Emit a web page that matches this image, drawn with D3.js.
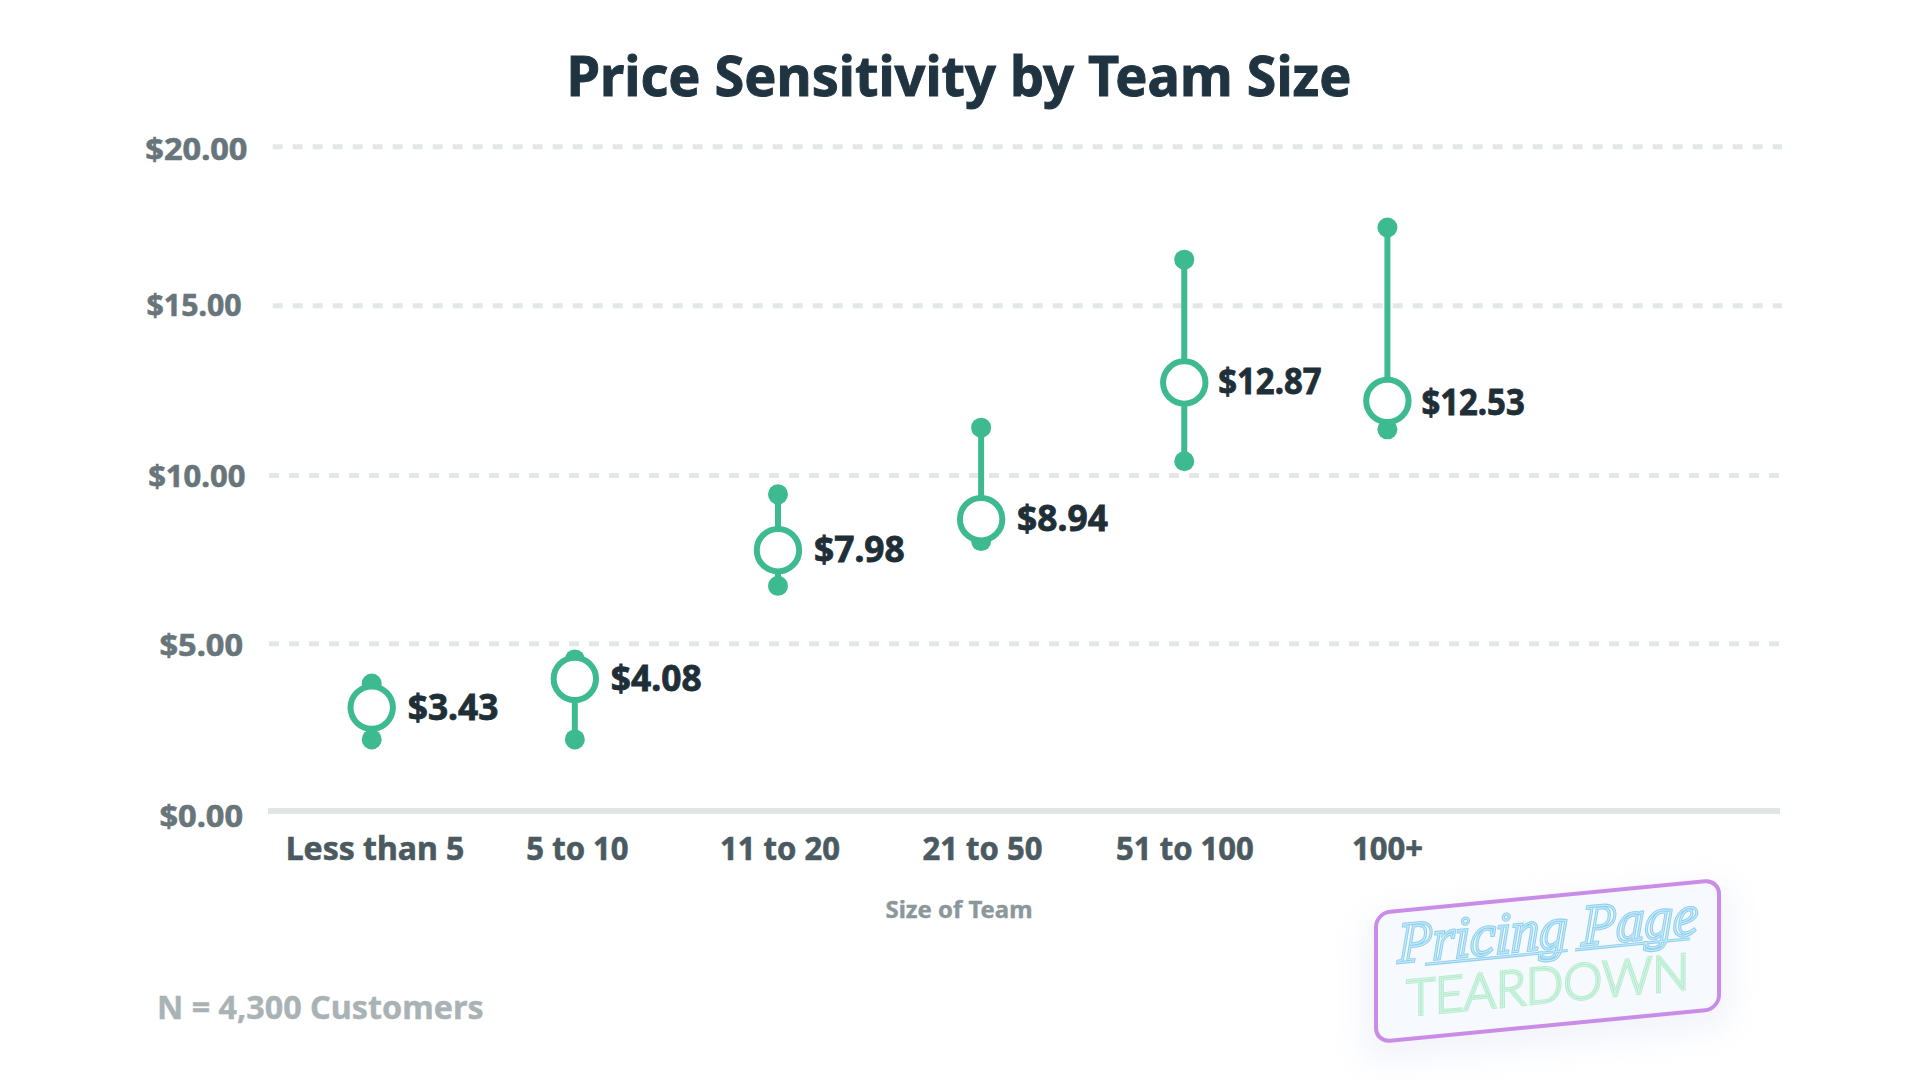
<!DOCTYPE html>
<html>
<head>
<meta charset="utf-8">
<script src="https://cdn.jsdelivr.net/npm/d3@7"></script>
<style>
  html, body { margin: 0; padding: 0; background: #fff; }
  svg { display: block; }
  text { font-family: "Noto Sans", sans-serif; font-weight: 700; paint-order: stroke; }
</style>
</head>
<body>
<div id="chart"></div>
<script>
var categories = ["Less than 5", "5 to 10", "11 to 20", "21 to 50", "51 to 100", "100+"];
var midValues = [3.09, 3.95, 7.78, 8.70, 12.74, 12.20];
var lowValues = [2.14, 2.14, 6.72, 8.05, 10.42, 11.36];
var highValues = [3.81, 4.53, 9.44, 11.41, 16.45, 17.46];
var priceLabels = ["$3.43", "$4.08", "$7.98", "$8.94", "$12.87", "$12.53"];
var yTicks = [0, 5, 10, 15, 20];

var width = 1920, height = 1080;
var green = "#3dba90";

var svg = d3.select("#chart").append("svg")
    .attr("width", width)
    .attr("height", height);

// gridlines in the picture are not quite evenly spaced, so the scale is piecewise
var y = d3.scaleLinear()
    .domain(yTicks)
    .range([811, 643.7, 475.5, 305.8, 146.7]);
var x = d3.scalePoint()
    .domain(categories)
    .range([371.7, 1387.4]);
var xLabel = d3.scalePoint()
    .domain(categories)
    .range([373.5, 1386]);

// y tick labels sit a little off their lines in the original: [right edge, dy, stretch]
var yLabelPlace = {
    0: [243, 4.5, 1.05],
    5: [243, 1, 1.05],
    10: [245.5, -0.5, 1],
    15: [241.5, -1, 0.975],
    20: [247.5, 2, 1.05]
};

// the original font has a narrow figure one, Noto does not
function hasOne(s) {
    return String(s).indexOf("1") >= 0;
}

// stretch text horizontally around its own x, and thicken it a bit
function fit(sel, k, heavy) {
    sel.each(function (d) {
        var t = d3.select(this);
        var tx = +t.attr("x") || 0;
        var kk = typeof k === "function" ? k(d) : k;
        t.attr("transform", "translate(" + tx * (1 - kk) + ",0) scale(" + kk + ",1)")
            .attr("stroke", t.attr("fill"))
            .attr("stroke-width", heavy);
    });
    return sel;
}

svg.append("text")
    .attr("x", 959)
    .attr("y", 96)
    .attr("text-anchor", "middle")
    .attr("font-size", 56)
    .attr("fill", "#1f3440")
    .text("Price Sensitivity by Team Size")
    .call(fit, 0.965, 1);

// gridlines
svg.append("g")
    .selectAll("line")
    .data(yTicks.filter(function (d) { return d > 0; }))
    .enter().append("line")
    .attr("x1", function (d) { return d > 10 ? 272.7 : 269; })
    .attr("x2", function (d) { return d > 10 ? 1782 : 1779; })
    .attr("y1", function (d) { return y(d); })
    .attr("y2", function (d) { return y(d); })
    .attr("stroke", "#e3e7e7")
    .attr("stroke-width", 5)
    .attr("stroke-dasharray", "10 10");

// y axis
var yAxis = svg.append("g")
    .call(d3.axisLeft(y)
        .tickValues(yTicks)
        .tickSize(0)
        .tickPadding(0)
        .tickFormat(function (d) { return "$" + d3.format(".2f")(d); }));
yAxis.select(".domain").remove();
yAxis.selectAll("text")
    .attr("font-family", null)
    .attr("font-size", 31)
    .attr("fill", "#68757a")
    .attr("x", function (d) { return yLabelPlace[d][0]; })
    .attr("dy", function (d) { return 11 + yLabelPlace[d][1]; })
    .call(fit, function (d) { return yLabelPlace[d][2]; }, 0.6);

// x axis labels and baseline
var xAxis = svg.append("g")
    .attr("transform", "translate(0,815)")
    .call(d3.axisBottom(xLabel).tickSize(0).tickPadding(22.5));
xAxis.select(".domain").remove();
xAxis.selectAll("text")
    .attr("font-size", 32)
    .attr("fill", "#4a5a60")
    .attr("dx", 1)
    .call(fit, function (d) { return hasOne(d) ? 0.97 : 1; }, 0.6);

svg.append("line")
    .attr("x1", 268)
    .attr("x2", 1780)
    .attr("y1", y(0))
    .attr("y2", y(0))
    .attr("stroke", "#e0e5e5")
    .attr("stroke-width", 6);

svg.append("text")
    .attr("x", 959)
    .attr("y", 918)
    .attr("text-anchor", "middle")
    .attr("font-size", 23)
    .attr("fill", "#8b979b")
    .text("Size of Team")
    .call(fit, 1.04, 0.4);

svg.append("text")
    .attr("x", 157)
    .attr("y", 1019.5)
    .attr("font-size", 32)
    .attr("fill", "#a9b3b5")
    .text("N = 4,300 Customers")
    .call(fit, 1.01, 0.4);

// range whiskers and markers
var rows = categories.map(function (c, i) {
    return { cat: c, low: lowValues[i], mid: midValues[i], high: highValues[i], label: priceLabels[i] };
});

var marks = svg.append("g").selectAll("g")
    .data(rows)
    .enter().append("g");

marks.append("line")
    .attr("x1", function (d) { return x(d.cat); })
    .attr("x2", function (d) { return x(d.cat); })
    .attr("y1", function (d) { return y(d.low); })
    .attr("y2", function (d) { return y(d.high); })
    .attr("stroke", green)
    .attr("stroke-width", 6);

["low", "high"].forEach(function (key) {
    marks.append("circle")
        .attr("cx", function (d) { return x(d.cat); })
        .attr("cy", function (d) { return y(d[key]); })
        .attr("r", 10)
        .attr("fill", green);
});

marks.append("circle")
    .attr("cx", function (d) { return x(d.cat); })
    .attr("cy", function (d) { return y(d.mid); })
    .attr("r", 21.2)
    .attr("fill", "#fff")
    .attr("stroke", green)
    .attr("stroke-width", 6);

marks.append("text")
    .attr("x", function (d) { return x(d.cat) + (hasOne(d.label) ? 34 : 36); })
    .attr("y", function (d) { return y(d.mid) + (d.label === "$12.53" ? 14.5 : 12); })
    .attr("font-size", 35)
    .attr("fill", "#1f2f38")
    .text(function (d) { return d.label; })
    .call(fit, function (d) { return hasOne(d.label) ? 0.94 : 1.01; }, 0.8);

// neon badge, skewed rather than rotated
var defs = svg.append("defs");
defs.append("filter").attr("id", "soft")
    .attr("x", "-30%").attr("y", "-50%").attr("width", "160%").attr("height", "200%")
    .append("feGaussianBlur").attr("stdDeviation", 16);

var badge = svg.append("g")
    .attr("transform", "translate(1376,913) skewY(-5.5)");

badge.append("rect")
    .attr("x", -12).attr("y", 4).attr("width", 367).attr("height", 145).attr("rx", 16)
    .attr("fill", "#e4e9f7").attr("opacity", 0.5)
    .attr("filter", "url(#soft)");
badge.append("rect")
    .attr("width", 343).attr("height", 129).attr("rx", 14)
    .attr("fill", "#f6f9fd")
    .attr("stroke", "#c98de8").attr("stroke-width", 4);

// each word is a wide tube colour with a pale core on top
[["#8fd0ee", 3.2], ["#c9ebfa", 1]].forEach(function (tube) {
    badge.append("text")
        .attr("x", 172).attr("y", 52)
        .attr("text-anchor", "middle")
        .attr("font-size", 58)
        .attr("fill", "none")
        .attr("stroke", tube[0])
        .attr("stroke-width", tube[1])
        .attr("textLength", 300)
        .attr("lengthAdjust", "spacingAndGlyphs")
        .style("font-family", "'Liberation Serif', serif")
        .style("font-style", "italic")
        .style("font-weight", 400)
        .text("Pricing Page");
    // underlines beneath the two script words
    [[49, 192], [199, 314]].forEach(function (span) {
        badge.append("line")
            .attr("x1", span[0]).attr("x2", span[1])
            .attr("y1", 56).attr("y2", 56)
            .attr("stroke", tube[0])
            .attr("stroke-width", tube[1]);
    });
    badge.append("text")
        .attr("x", 172).attr("y", 106)
        .attr("text-anchor", "middle")
        .attr("font-size", 50)
        .attr("fill", "none")
        .attr("stroke", tube[0] === "#8fd0ee" ? "#b8ecd0" : "#ecfbf2")
        .attr("stroke-width", tube[1] - 0.6)
        .attr("textLength", 283)
        .attr("lengthAdjust", "spacingAndGlyphs")
        .style("font-family", "Lato, sans-serif")
        .style("font-weight", 300)
        .text("TEARDOWN");
});
</script>
</body>
</html>
